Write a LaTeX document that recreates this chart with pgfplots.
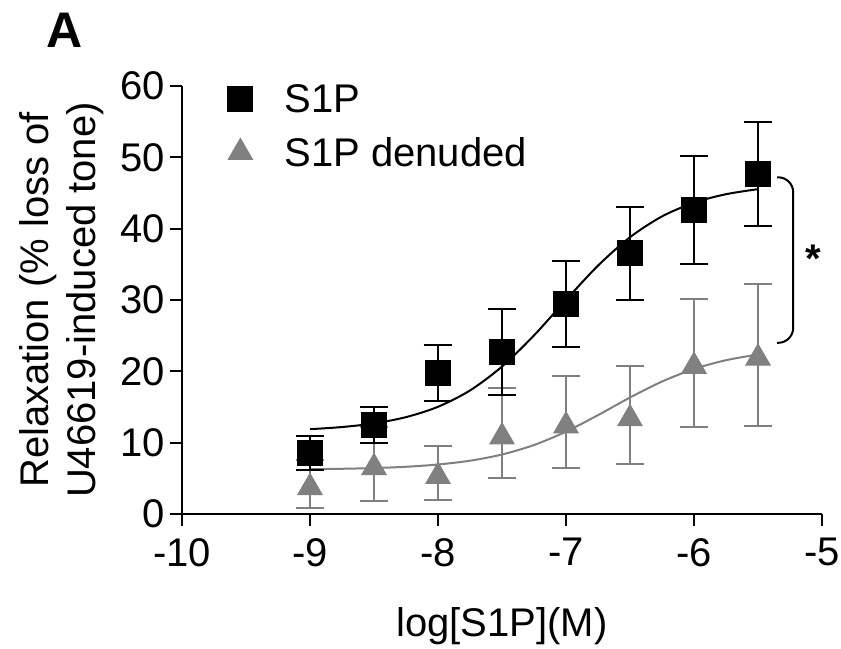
\documentclass[border=0pt]{standalone}
\usepackage{fontspec}
\setmainfont{Liberation Sans}
\usepackage{pgfplots}
\pgfplotsset{compat=1.18}
\definecolor{pgray}{RGB}{128,128,128}
\pgfplotsset{
  mylegimg/.style={legend image code/.code={\draw[##1] plot coordinates {(13pt,0pt)}; \path (0pt,0pt) (55pt,0pt);}},
}
\begin{document}
\begin{tikzpicture}
\begin{axis}[
  scale only axis, width=640pt, height=428pt,
  xmin=-10, xmax=-5, ymin=0, ymax=60,
  axis lines*=left, axis line style={line width=2pt, -},
  tick align=outside, major tick length=12pt,
  every tick/.style={black, line width=2pt},
  xtick={-10,-9,-8,-7,-6,-5}, xticklabels={-10,-9,-8,-7,-6,-5},
  ytick={0,10,20,30,40,50,60},
  tick label style={font=\fontsize{40}{44}\selectfont},
  /pgf/number format/assume math mode=true,
  xticklabel style={inner sep=0pt, anchor=north, yshift=-12pt},
  yticklabel style={inner sep=0pt, anchor=east, xshift=-5pt},
  xlabel={log[S1P](M)},
  xlabel style={font=\fontsize{40}{44}\selectfont, at={(axis description cs:0.5,-0.262)}, anchor=center},
  ylabel={Relaxation (\% loss of\\U46619-induced tone)},
  ylabel style={font=\fontsize{40}{47}\selectfont, align=center, at={(axis description cs:-0.1875,0.5)}, anchor=center},
  clip=false,
  legend style={at={(axis description cs:0.0703,1.008)}, anchor=north west, draw=none, fill=none,
    font=\fontsize{40}{44}\selectfont, row sep=19pt, inner sep=0pt},
  legend cell align=left,
]
% legend images
\addlegendimage{mylegimg, black, mark=square*, mark size=12.5pt, mark options={line width=1pt}}
\addlegendentry{S1P}
\addlegendimage{mylegimg, pgray, mark=triangle*, mark size=14pt, mark options={line width=1pt}}
\addlegendentry{S1P denuded}

% gray fitted curve
\addplot[pgray, line width=2pt, smooth, forget plot] coordinates {
(-9,6.28) (-8.75,6.34) (-8.5,6.44) (-8.25,6.62) (-8,6.94) (-7.75,7.47) (-7.5,8.34)
(-7.25,9.67) (-7,11.54) (-6.75,13.86) (-6.5,16.33) (-6.25,18.57) (-6,20.33) (-5.75,21.56) (-5.5,22.36)};
% gray data
\addplot[pgray, only marks, mark=triangle*, mark size=14pt, mark options={line width=1pt, yshift=-3.5pt}, forget plot,
  error bars/.cd, y dir=both, y explicit, error bar style={line width=2pt, pgray},
  error mark options={rotate=90, mark size=14pt, line width=2pt, pgray}]
 coordinates {
(-9,4.2) +- (0,3.35)
(-8.5,7.0) +- (0,5.2)
(-8,5.75) +- (0,3.85)
(-7.5,11.3) +- (0,6.3)
(-7,12.85) +- (0,6.45)
(-6.5,13.85) +- (0,6.9)
(-6,21.2) +- (0,9.0)
(-5.5,22.35) +- (0,9.95)
};
% black fitted curve
\addplot[black, line width=2pt, smooth, forget plot] coordinates {
(-9,11.89) (-8.75,12.19) (-8.5,12.70) (-8.25,13.58) (-8,15.03) (-7.75,17.32) (-7.5,20.67)
(-7.25,25.04) (-7,30.01) (-6.75,34.82) (-6.5,38.80) (-6.25,41.72) (-6,43.64) (-5.75,44.83) (-5.5,45.54)};
% black data
\addplot[black, only marks, mark=square*, mark size=12.5pt, mark options={line width=1pt}, forget plot,
  error bars/.cd, y dir=both, y explicit, error bar style={line width=2pt, black},
  error mark options={rotate=90, mark size=14pt, line width=2pt, black}]
 coordinates {
(-9,8.5) +- (0,2.4)
(-8.5,12.45) +- (0,2.55)
(-8,19.75) +- (0,3.95)
(-7.5,22.75) +- (0,6.05)
(-7,29.4) +- (0,6.0)
(-6.5,36.55) +- (0,6.55)
(-6,42.6) +- (0,7.6)
(-5.5,47.7) +- (0,7.3)
};
% significance bracket
\draw[line width=2pt, rounded corners=15pt] (axis cs:-5.35,47.2) -- (axis cs:-5.225,47.2) -- (axis cs:-5.225,24.0) -- (axis cs:-5.35,24.0);
\node[font=\fontsize{40}{44}\selectfont\bfseries] at (axis cs:-5.07,35.8) {*};
\node[font=\fontsize{50}{56}\selectfont\bfseries] at (axis description cs:-0.183,1.131) {A};
\end{axis}
\useasboundingbox (-182pt,-125pt) rectangle (659pt,514pt);
\end{tikzpicture}
\end{document}
